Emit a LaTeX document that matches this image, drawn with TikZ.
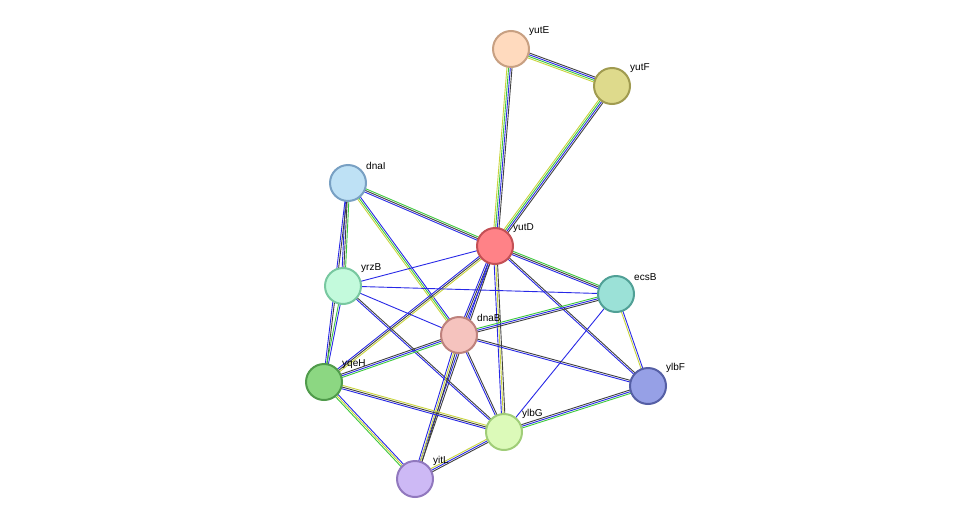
\documentclass[tikz,border=0pt]{standalone}
\usepackage{fontspec}
\setmainfont{Liberation Sans}
\usetikzlibrary{calc,backgrounds}
\definecolor{ey}{HTML}{C8D43C}
\definecolor{eg}{HTML}{3CC83C}
\definecolor{eb}{HTML}{2828E6}
\definecolor{ek}{HTML}{404040}
\tikzset{prot/.style={circle,minimum size=36pt,inner sep=0pt,line width=2pt},
 lab/.style={font=\fontsize{10}{11}\selectfont,anchor=south west,inner sep=1pt}}
\newcommand\edg[3]{%
 \foreach \c [count=\n] in {#3} {\global\let\ncount\n}%
 \foreach \c [count=\i] in {#3} {%
  \pgfmathsetmacro\o{(\i-(\ncount+1)/2)*1.7}%
  \draw[\c,line width=0.9pt] ($(#1)!\o pt!90:(#2)$) -- ($(#2)!\o pt!-90:(#1)$);}}
\begin{document}
\begin{tikzpicture}[x=1pt,y=-1pt]
\useasboundingbox (0,0) rectangle (976,525);
\node[prot,fill={rgb,255:red,255;green,218;blue,190},draw={rgb,255:red,200;green,160;blue,130}] (yutE) at (511,49) {};
\node[prot,fill={rgb,255:red,222;green,218;blue,140},draw={rgb,255:red,160;green,155;blue,80}] (yutF) at (612,86) {};
\node[prot,fill={rgb,255:red,190;green,225;blue,245},draw={rgb,255:red,120;green,160;blue,195}] (dnaI) at (348,183) {};
\node[prot,fill={rgb,255:red,255;green,130;blue,135},draw={rgb,255:red,195;green,80;blue,85}] (yutD) at (495,246) {};
\node[prot,fill={rgb,255:red,195;green,250;blue,220},draw={rgb,255:red,120;green,200;blue,160}] (yrzB) at (343,286) {};
\node[prot,fill={rgb,255:red,155;green,225;blue,215},draw={rgb,255:red,80;green,160;blue,150}] (ecsB) at (616,294) {};
\node[prot,fill={rgb,255:red,245;green,195;blue,190},draw={rgb,255:red,190;green,130;blue,125}] (dnaB) at (459,335) {};
\node[prot,fill={rgb,255:red,140;green,215;blue,130},draw={rgb,255:red,80;green,155;blue,75}] (yqeH) at (324,382) {};
\node[prot,fill={rgb,255:red,150;green,160;blue,230},draw={rgb,255:red,85;green,95;blue,165}] (ylbF) at (648,386) {};
\node[prot,fill={rgb,255:red,220;green,250;blue,185},draw={rgb,255:red,160;green,205;blue,120}] (ylbG) at (504,432) {};
\node[prot,fill={rgb,255:red,205;green,185;blue,245},draw={rgb,255:red,145;green,120;blue,190}] (yitL) at (415,479) {};
\foreach \n/\t in {yutE/yutE,yutF/yutF,dnaI/dnaI,yutD/yutD,yrzB/yrzB,ecsB/ecsB,dnaB/dnaB,yqeH/yqeH,ylbF/ylbF,ylbG/ylbG,yitL/yitL}
  \node[lab] (l\n) at ($(\n)+(17,-12)$) {\t};
\begin{pgfonlayer}{background}
\edg{yutE}{yutF}{ey,eg,eb,ek}
\edg{yutE}{yutD}{ey,eg,eb,ek}
\edg{yutF}{yutD}{ey,eg,eb,ek}
\edg{dnaI}{yutD}{eb,ek,eg}
\edg{dnaI}{yrzB}{eb,ek,eg}
\edg{dnaI}{yqeH}{eb,ek}
\edg{dnaI}{dnaB}{ey,eg,eb}
\edg{yutD}{ecsB}{eb,ek,eg}
\edg{yutD}{yrzB}{eb}
\edg{yutD}{dnaB}{eb,ek,eb}
\edg{yutD}{yqeH}{eb,ek,ey}
\edg{yutD}{ylbF}{eb,ek}
\edg{yutD}{ylbG}{eb,ey,ek}
\edg{yutD}{yitL}{eb,ek}
\edg{yrzB}{ecsB}{eb}
\edg{yrzB}{dnaB}{eb}
\edg{yrzB}{ylbG}{eb,ek}
\edg{yrzB}{yqeH}{eg,eb}
\edg{ecsB}{dnaB}{eg,eb,ek}
\edg{ecsB}{ylbF}{ey,eb}
\edg{ecsB}{ylbG}{eb}
\edg{yqeH}{dnaB}{eg,eb,ek}
\edg{dnaB}{ylbF}{eb,ek}
\edg{dnaB}{ylbG}{eb,ek}
\edg{dnaB}{yitL}{eb,ey,ek}
\edg{yqeH}{ylbG}{eb,ek,ey}
\edg{yqeH}{yitL}{eg,ey,eb}
\edg{ylbG}{yitL}{ey,eb,ek}
\edg{ylbG}{ylbF}{eg,eb,ek}
\end{pgfonlayer}
\end{tikzpicture}
\end{document}
